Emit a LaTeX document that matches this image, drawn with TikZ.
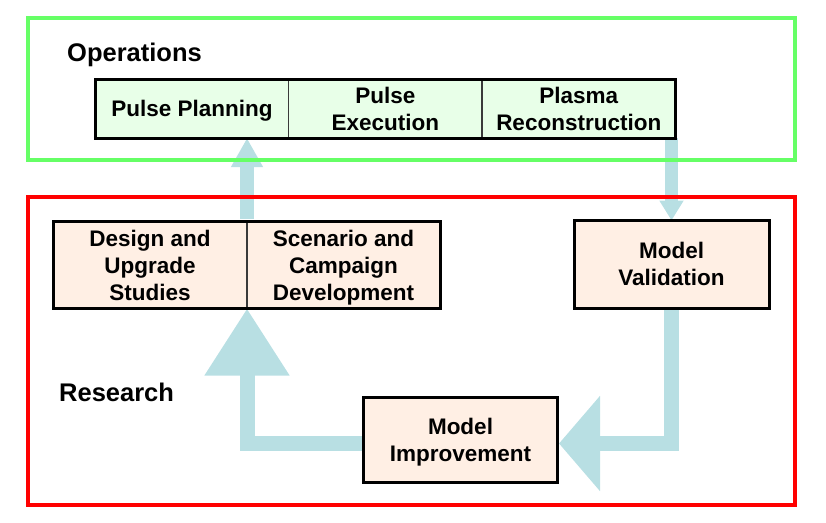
\documentclass[tikz,border=0pt]{standalone}
\usepackage{fontspec}
\setmainfont{Liberation Sans}
\usetikzlibrary{arrows.meta}
\pgfdeclarelayer{bg}
\pgfsetlayers{bg,main}
\definecolor{opsgreen}{HTML}{66FF66}
\definecolor{resred}{HTML}{FF0000}
\definecolor{flowblue}{HTML}{B8DFE3}
\definecolor{opsfill}{HTML}{E8FFE8}
\definecolor{resfill}{HTML}{FFEFE4}
\definecolor{divgray}{HTML}{3A3A3A}
\begin{document}
\begin{tikzpicture}[x=1pt,y=-1pt,
  celltext/.style={inner sep=0pt, outer sep=0pt, align=center, text depth=0pt,
    font=\fontsize{22.5}{27}\selectfont\bfseries},
  opscell/.style={celltext, fill=opsfill, minimum height=58.5pt},
  rescell/.style={celltext, fill=resfill, minimum height=87pt},
  resbox/.style={celltext, fill=resfill, draw=black, line width=3pt},
  rowborder/.style={draw=black, line width=3pt},
  divider/.style={draw=divgray, line width=1.3pt},
  frame/.style={line width=4pt},
  grouplabel/.style={inner sep=0pt, anchor=base west,
    font=\fontsize{25.5}{30}\selectfont\bfseries},
  flow/.style={draw=flowblue, line join=miter}
]
\useasboundingbox (0,0) rectangle (826,522);

% frames
\draw[frame, draw=opsgreen] (28,17.5) rectangle (795,160);
\draw[frame, draw=resred] (28,197) rectangle (795,505);

% labels
\node[grouplabel] (opslabel) at (67,61) {Operations};
\node[grouplabel] (reslabel) at (59,401.5) {Research};

% operations row
\node[opscell, minimum width=193.2pt] (pp) at (192.1,108.8) {Pulse Planning};
\node[opscell, minimum width=193.3pt] (pe) at (385.35,108.8) {Pulse\\Execution};
\node[opscell, minimum width=193.5pt] (pr) at (578.75,108.8) {Plasma\\Reconstruction};
\draw[divider] (pp.north east) -- (pp.south east);
\draw[divider] (pe.north east) -- (pe.south east);
\draw[rowborder] (pp.north west) rectangle (pr.south east);

% research row
\node[rescell, minimum width=194pt] (du) at (150,265) {Design and\\Upgrade\\Studies};
\node[rescell, minimum width=193pt] (sc) at (343.5,265) {Scenario and\\Campaign\\Development};
\draw[divider] (du.north east) -- (du.south east);
\draw[rowborder] (du.north west) rectangle (sc.south east);

\node[resbox, minimum width=195pt, minimum height=87.5pt] (mv) at (671.5,264.25) {Model\\Validation};
\node[resbox, minimum width=194pt, minimum height=85.5pt] (mi) at (460.5,439.75) {Model\\Improvement};

\coordinate (lvl) at (0,443.5);

% flow arrows
\begin{pgfonlayer}{bg}
\draw[flow, line width=14pt, -{Triangle[width=30pt,length=29pt]}]
  ([yshift=3pt]du.north east) -- (du.north east |- pp.south);
\draw[flow, line width=13pt, -{Triangle[width=23pt,length=20pt]}]
  (mv.north |- pr.south) -- (mv.north);
\draw[flow, line width=15pt, -{Triangle[width=93pt,length=41pt]}]
  (mv.south) |- ([xshift=1.5pt]mi.east |- lvl);
\draw[flow, line width=15pt, -{Triangle[width=81pt,length=67pt]}]
  (mi.west |- lvl) -| (du.south east);
\end{pgfonlayer}
\end{tikzpicture}
\end{document}
